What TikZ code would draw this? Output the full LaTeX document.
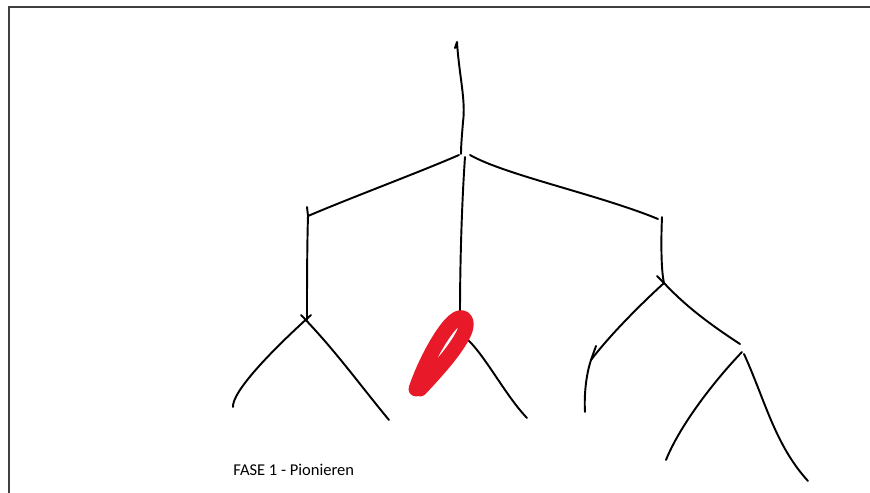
\documentclass[tikz,border=0pt]{standalone}
\usepackage{fontspec}
\setmainfont{Carlito}
\definecolor{markred}{RGB}{232,25,40}

\begin{document}
\begin{tikzpicture}[
  x=0.02cm, y=-0.02cm,
  pen/.style={line width=1.1pt, line cap=round, line join=round},
  marker/.style={draw=markred, line width=8.5pt, line cap=round, line join=round},
  frame/.style={draw=black!75, line width=1.5pt},
  phasetext/.style={font=\fontsize{9.4}{11}\selectfont, anchor=west, inner sep=0pt}
]
\useasboundingbox (0,0) rectangle (870,493);
\draw[frame] (875,7) -- (9,7) -- (9,498);

% knots of the tree
\coordinate (top) at (457,42);
\coordinate (root) at (461,154);
\coordinate (lknot) at (308,216);
\coordinate (rknot) at (658,219);
\coordinate (lfork) at (307,320);
\coordinate (mfork) at (460,314);
\coordinate (rfork) at (664,283);
\coordinate (rrfork) at (742,352);
% leaves
\coordinate (ll) at (233,407);
\coordinate (lr) at (389,420);
\coordinate (ml) at (420,389);
\coordinate (mr) at (527,418);
\coordinate (rl) at (585,412);
\coordinate (rrl) at (666,460);
\coordinate (rrr) at (808,481);

% trunk and first split
\draw[pen] (455,48) -- (top) .. controls (459,75) and (466,100) .. (463,122)
  .. controls (462,135) and (461,145) .. (root);
\draw[pen] (root) ++(-2,1) .. controls (420,172) and (350,198) .. (lknot);
\draw[pen] (root) ++(4,3) .. controls (462,200) and (460,260) .. (mfork);
\draw[pen] (root) ++(9,1) .. controls (505,175) and (600,195) .. (rknot);

% left
\draw[pen] (lknot) ++(-1,-9) -- (lknot) .. controls (307,250) and (307,290) .. (lfork);
\draw[pen] (lfork) ++(4,-5) .. controls (270,352) and (232,392) .. (ll);
\draw[pen] (lfork) ++(-6,-5) .. controls (335,350) and (360,385) .. (lr);

% middle
\draw[pen] (mfork) ++(6,24) .. controls (485,355) and (505,395) .. (mr);
\draw[marker] (ml) ++(-4,0) .. controls (425,362) and (443,330) .. (454,321)
  .. controls (463,313) and (470,320) .. (464,333)
  .. controls (456,350) and (436,372) .. (ml);

% right
\draw[pen] (rknot) ++(4,-2) .. controls (661,240) and (661,270) .. (rfork);
\draw[pen] (rfork) ++(-7,-7) -- (rfork);
\draw[pen] (rfork) .. controls (640,305) and (610,335) .. (591,360)
  .. controls (586,375) and (584,395) .. (rl);
\draw[pen] (596,346) -- (591,360);
\draw[pen] (rfork) .. controls (680,300) and (700,318) .. (740,344);
\draw[pen] (rrfork) .. controls (715,380) and (680,425) .. (rrl);
\draw[pen] (rrfork) ++(2,2) .. controls (765,400) and (775,445) .. (rrr);

\node[phasetext] (phase) at (233,470) {FASE 1 - Pionieren};
\end{tikzpicture}
\end{document}
